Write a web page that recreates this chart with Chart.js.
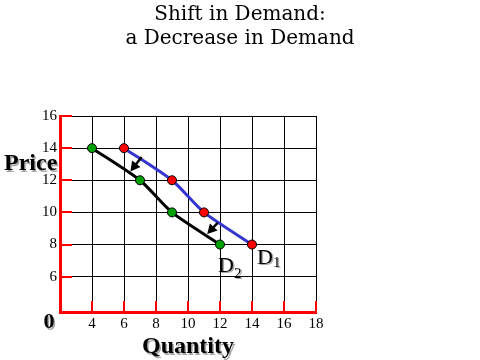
<!DOCTYPE html>
<html>
<head>
<meta charset="utf-8">
<script src="https://cdn.jsdelivr.net/npm/chart.js@4/dist/chart.umd.min.js"></script>
<style>
  html, body { margin: 0; padding: 0; background: #fff; }
  #wrap { width: 480px; height: 360px; }
</style>
</head>
<body>
<div id="wrap"><canvas id="demandChart" width="480" height="360"></canvas></div>
<script>
// Courbe D1 (avant) et D2 (après la baisse de la demande)
const d1Quantity = [6, 9, 11, 14];
const d1Price = [14, 12, 10, 8];
const d2Quantity = [4, 7, 9, 12];
const d2Price = [14, 12, 10, 8];

// Graduations des axes
const xTicks = [4, 6, 8, 10, 12, 14, 16, 18];
const yTicks = [6, 8, 10, 12, 14, 16];

// Flèches de déplacement (de D1 vers D2)
const arrowFromX = [7.1, 11.85];
const arrowFromY = [13.45, 9.35];
const arrowToX = [6.4, 11.2];
const arrowToY = [12.55, 8.65];

const titleLines = ['Shift in Demand:', 'a Decrease in Demand'];

const toPoints = (xs, ys) => xs.map((x, i) => ({ x: x, y: ys[i] }));

// Titre, petits traits rouges sur les axes, flèches et libellés
const decorPlugin = {
    id: 'decor',
    beforeDatasetsDraw(chart) {
        const { ctx, chartArea, scales } = chart;
        ctx.save();
        ctx.strokeStyle = '#ff0000';
        ctx.lineWidth = 2;
        xTicks.forEach(v => {
            const px = Math.round(scales.x.getPixelForValue(v));
            ctx.beginPath();
            ctx.moveTo(px, chartArea.bottom);
            ctx.lineTo(px, chartArea.bottom - 11);
            ctx.stroke();
        });
        yTicks.forEach(v => {
            const py = Math.round(scales.y.getPixelForValue(v));
            ctx.beginPath();
            ctx.moveTo(chartArea.left, py);
            ctx.lineTo(chartArea.left + 12, py);
            ctx.stroke();
        });

        // titre centré sur la page
        ctx.fillStyle = '#000';
        ctx.font = '20px "DejaVu Serif"';
        ctx.textAlign = 'center';
        ctx.textBaseline = 'middle';
        titleLines.forEach((t, i) => ctx.fillText(t, 240, 15 + i * 24));
        ctx.restore();
    },
    afterDatasetsDraw(chart) {
        const { ctx, scales } = chart;
        ctx.save();
        // flèches
        ctx.strokeStyle = '#000';
        ctx.fillStyle = '#000';
        ctx.lineWidth = 2.5;
        arrowFromX.forEach((fx, i) => {
            const x1 = scales.x.getPixelForValue(fx);
            const y1 = scales.y.getPixelForValue(arrowFromY[i]);
            const x2 = scales.x.getPixelForValue(arrowToX[i]);
            const y2 = scales.y.getPixelForValue(arrowToY[i]);
            const a = Math.atan2(y2 - y1, x2 - x1);
            const head = 11;
            ctx.beginPath();
            ctx.moveTo(x1, y1);
            ctx.lineTo(x2 - Math.cos(a) * head * 0.6, y2 - Math.sin(a) * head * 0.6);
            ctx.stroke();
            ctx.beginPath();
            ctx.moveTo(x2, y2);
            ctx.lineTo(x2 - head * Math.cos(a - 0.5), y2 - head * Math.sin(a - 0.5));
            ctx.lineTo(x2 - head * Math.cos(a + 0.5), y2 - head * Math.sin(a + 0.5));
            ctx.closePath();
            ctx.fill();
        });

        // libellés en gras avec une ombre grise
        ctx.shadowColor = 'rgba(0,0,0,0.35)';
        ctx.shadowOffsetX = 1.5;
        ctx.shadowOffsetY = 1.5;
        ctx.fillStyle = '#000';
        ctx.textBaseline = 'alphabetic';
        ctx.font = 'bold 24px "Liberation Serif"';
        ctx.textAlign = 'left';
        ctx.fillText('Price', 4, 170);
        ctx.textAlign = 'center';
        ctx.fillText('Quantity', 188, 353);
        ctx.font = 'bold 22px "Liberation Serif"';
        ctx.fillText('0', 49, 328);

        // D1 et D2
        ctx.textAlign = 'left';
        const d1x = scales.x.getPixelForValue(d1Quantity[d1Quantity.length - 1]);
        const d1y = scales.y.getPixelForValue(d1Price[d1Price.length - 1]);
        const d2x = scales.x.getPixelForValue(d2Quantity[d2Quantity.length - 1]);
        const d2y = scales.y.getPixelForValue(d2Price[d2Price.length - 1]);
        ctx.font = '22px "Liberation Serif"';
        ctx.fillText('D', d1x + 5, d1y + 19);
        ctx.fillText('D', d2x - 2, d2y + 27);
        ctx.font = '15px "Liberation Serif"';
        ctx.fillText('1', d1x + 21, d1y + 22);
        ctx.fillText('2', d2x + 14, d2y + 33);
        ctx.restore();
    }
};

new Chart(document.getElementById('demandChart'), {
    type: 'scatter',
    data: {
        datasets: [
            {
                label: 'D1',
                data: toPoints(d1Quantity, d1Price),
                showLine: true,
                borderColor: '#3535cf',
                borderWidth: 3,
                tension: 0.25,
                pointBackgroundColor: '#ff0000',
                pointBorderColor: '#000',
                pointBorderWidth: 1,
                pointRadius: 4.5
            },
            {
                label: 'D2',
                data: toPoints(d2Quantity, d2Price),
                showLine: true,
                borderColor: '#000',
                borderWidth: 3,
                tension: 0.25,
                pointBackgroundColor: '#00a000',
                pointBorderColor: '#000',
                pointBorderWidth: 1,
                pointRadius: 4.5
            }
        ]
    },
    options: {
        responsive: false,
        animation: false,
        events: [],
        layout: { padding: { left: 0, right: 164, top: 116, bottom: 0 } },
        scales: {
            x: {
                type: 'linear',
                min: 2,
                max: 18,
                afterBuildTicks: s => { s.ticks = xTicks.map(v => ({ value: v })); },
                afterFit: s => { s.height = 48; },
                grid: { color: '#000', lineWidth: 1, drawTicks: false },
                border: { color: '#ff0000', width: 3 },
                ticks: {
                    color: '#000',
                    padding: 3,
                    font: { family: 'Liberation Serif', size: 15 }
                }
            },
            y: {
                type: 'linear',
                min: 3.8,
                max: 16,
                afterBuildTicks: s => { s.ticks = yTicks.map(v => ({ value: v })); },
                afterFit: s => { s.width = 60; },
                grid: { color: '#000', lineWidth: 1, drawTicks: false },
                border: { color: '#ff0000', width: 3 },
                ticks: {
                    color: '#000',
                    padding: 3,
                    font: { family: 'Liberation Serif', size: 15 }
                }
            }
        },
        plugins: {
            legend: { display: false },
            tooltip: { enabled: false },
            title: { display: false }
        }
    },
    plugins: [decorPlugin]
});
</script>
</body>
</html>
